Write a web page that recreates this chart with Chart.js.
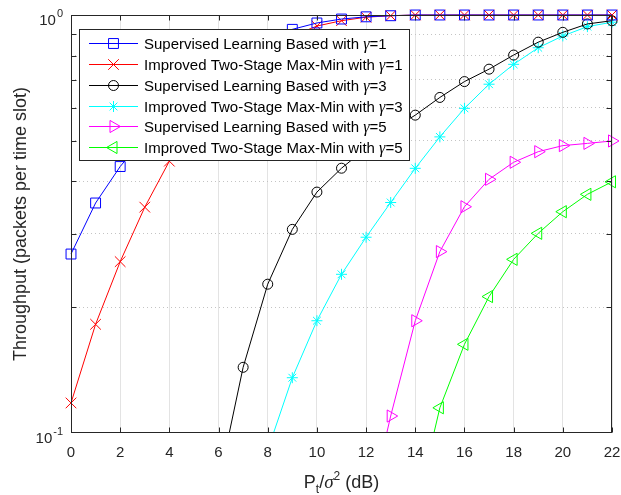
<!DOCTYPE html>
<html>
<head>
<meta charset="utf-8">
<script src="https://cdn.jsdelivr.net/npm/chart.js@4.4.1/dist/chart.umd.min.js"></script>
<style>
  html, body { margin: 0; padding: 0; background: #fff; }
  #wrap { width: 621px; height: 495px; }
</style>
</head>
<body>
<div id="wrap"><canvas id="myChart" width="621" height="495"></canvas></div>
<script>
"use strict";
// x axis: transmit SNR Pt/sigma^2 in dB
const snrDb = [0, 1, 2, 3, 4, 5, 6, 7, 8, 9, 10, 11, 12, 13, 14, 15, 16, 17, 18, 19, 20, 21, 22];
const xTicks = [0, 2, 4, 6, 8, 10, 12, 14, 16, 18, 20, 22];
const yMinorTicks = [0.2, 0.3, 0.4, 0.5, 0.6, 0.7, 0.8, 0.9];

// throughput (null = not plotted)
const slGamma1 = [0.268, 0.355, 0.434, 0.51, 0.585, 0.66, 0.73, 0.8, 0.865, 0.924, 0.957, 0.978, 0.99, 0.996, 1, 1, 1, 1, 1, 1, 1, 1, 1];
const tsGamma1 = [0.118, 0.182, 0.257, 0.347, 0.447, 0.55, 0.65, 0.74, 0.82, 0.89, 0.941, 0.969, 0.988, 0.996, 1, 1, 1, 1, 1, 1, 1, 1, 1];
const slGamma3 = [null, null, null, null, null, null, 0.0757, 0.1436, 0.227, 0.307, 0.377, 0.43, 0.48, 0.53, 0.576, 0.635, 0.693, 0.742, 0.802, 0.861, 0.909, 0.952, 0.969];
const tsGamma3 = [null, null, null, null, null, null, null, null, 0.091, 0.1356, 0.1856, 0.2397, 0.294, 0.356, 0.4297, 0.511, 0.598, 0.683, 0.762, 0.835, 0.891, 0.938, 0.961];
const slGamma5 = [null, null, null, null, null, null, null, null, null, null, null, null, 0.061, 0.1098, 0.1856, 0.2716, 0.3478, 0.4045, 0.4443, 0.471, 0.487, 0.493, 0.4996];
const tsGamma5 = [null, null, null, null, null, null, null, null, null, null, null, null, null, null, 0.0645, 0.1149, 0.163, 0.212, 0.2603, 0.3004, 0.3384, 0.3724, 0.399];

const seriesPrefix = [
  "Supervised Learning Based with ",
  "Improved Two-Stage Max-Min with ",
  "Supervised Learning Based with ",
  "Improved Two-Stage Max-Min with ",
  "Supervised Learning Based with ",
  "Improved Two-Stage Max-Min with "
];
const gammaValues = [1, 1, 3, 3, 5, 5];
const seriesData = [slGamma1, tsGamma1, slGamma3, tsGamma3, slGamma5, tsGamma5];
const seriesColors = ["#0000ff", "#ff0000", "#000000", "#00ffff", "#ff00ff", "#00ff00"];
const seriesMarkers = [
  { style: "rect", radius: 7, rotation: 0 },
  { style: "crossRot", radius: 7.5, rotation: 0 },
  { style: "circle", radius: 5, rotation: 0 },
  { style: "star", radius: 5.5, rotation: 0 },
  { style: "triangle", radius: 7, rotation: 90 },
  { style: "triangle", radius: 7, rotation: -90 }
];

const FONT = "'Liberation Sans', Arial, Helvetica, sans-serif";
const AXIS_COLOR = "#262626";
function sans(px) { return px + "px " + FONT; }
function greek(px) { return "italic " + px + "px 'Liberation Serif', 'DejaVu Serif', serif"; }

const datasets = seriesData.map((arr, i) => ({
  label: seriesPrefix[i] + "\u03b3=" + gammaValues[i],
  data: snrDb.map((x, j) => ({ x: x, y: arr[j] })),
  borderColor: seriesColors[i],
  borderWidth: 1,
  pointStyle: seriesMarkers[i].style,
  pointRadius: seriesMarkers[i].radius,
  pointRotation: seriesMarkers[i].rotation,
  pointBorderColor: seriesColors[i],
  pointBackgroundColor: "rgba(0,0,0,0)",
  pointBorderWidth: 1,
  pointHoverRadius: seriesMarkers[i].radius,
  tension: 0,
  clip: { left: 12, right: 12, top: 12, bottom: 0 }
}));

function isDecade(v) {
  return Math.abs(v - 0.1) < 1e-9 || Math.abs(v - 1) < 1e-9;
}

// draw a run of text pieces left to right, returns the end x
function drawRun(ctx, parts, x, y) {
  parts.forEach(p => {
    ctx.font = p.f;
    ctx.fillText(p.t, x, y + (p.dy || 0));
    x += ctx.measureText(p.t).width;
  });
  return x;
}
function runWidth(ctx, parts) {
  let w = 0;
  parts.forEach(p => { ctx.font = p.f; w += ctx.measureText(p.t).width; });
  return w;
}

// axes box, inward ticks, tick labels, axis titles and legend drawn like the MATLAB figure
const matlabAxes = {
  id: "matlabAxes",
  afterDraw(chart) {
    const ctx = chart.ctx;
    const area = chart.chartArea;
    const xs = chart.scales.x;
    const ys = chart.scales.y;
    const L = Math.round(area.left) + 0.5;
    const R = Math.round(area.right) - 0.5;
    const T = Math.round(area.top) + 0.5;
    const B = Math.round(area.bottom) - 0.5;
    ctx.save();
    ctx.strokeStyle = AXIS_COLOR;
    ctx.lineWidth = 1;
    ctx.beginPath();
    xTicks.forEach(v => {
      const px = Math.round(xs.getPixelForValue(v)) + 0.5;
      ctx.moveTo(px, B); ctx.lineTo(px, B - 5);
      ctx.moveTo(px, T); ctx.lineTo(px, T + 5);
    });
    yMinorTicks.forEach(v => {
      const py = Math.round(ys.getPixelForValue(v)) + 0.5;
      ctx.moveTo(L, py); ctx.lineTo(L + 5, py);
      ctx.moveTo(R, py); ctx.lineTo(R - 5, py);
    });
    ctx.stroke();
    ctx.strokeRect(L, T, R - L, B - T);

    // x tick labels
    ctx.fillStyle = AXIS_COLOR;
    ctx.font = sans(15);
    ctx.textAlign = "center";
    ctx.textBaseline = "alphabetic";
    xTicks.forEach(v => {
      ctx.fillText(String(v), xs.getPixelForValue(v), B + 24.5);
    });

    // y tick labels 10^0 and 10^-1
    [[1, "0"], [0.1, "-1"]].forEach(([v, exp]) => {
      const py = ys.getPixelForValue(v);
      ctx.font = sans(11);
      const ew = ctx.measureText(exp).width;
      ctx.textAlign = "left";
      ctx.textBaseline = "alphabetic";
      const ex = area.left - 8 - ew;
      ctx.fillText(exp, ex, py + 2);
      ctx.font = sans(15);
      ctx.textAlign = "right";
      ctx.fillText("10", ex - 1, py + 10);
    });

    // y title
    ctx.save();
    ctx.translate(26, (area.top + area.bottom) / 2);
    ctx.rotate(-Math.PI / 2);
    ctx.font = sans(18);
    ctx.textAlign = "center";
    ctx.textBaseline = "alphabetic";
    ctx.fillText("Throughput (packets per time slot)", 0, 0);
    ctx.restore();

    // x title: P_t / sigma^2 (dB)
    const xTitle = [
      { t: "P", f: sans(18) },
      { t: "t", f: sans(12), dy: 5 },
      { t: "/", f: sans(18) },
      { t: "\u03c3", f: greek(19) },
      { t: "2", f: sans(12), dy: -8 },
      { t: " (dB)", f: sans(18) }
    ];
    ctx.textAlign = "left";
    ctx.textBaseline = "alphabetic";
    const tw = runWidth(ctx, xTitle);
    drawRun(ctx, xTitle, (area.left + area.right) / 2 - tw / 2, 488);

    // legend
    const lx = 79.5, ly = 29.5, lw = 330, lh = 131;
    ctx.fillStyle = "#ffffff";
    ctx.fillRect(lx, ly, lw, lh);
    ctx.strokeStyle = AXIS_COLOR;
    ctx.strokeRect(lx, ly, lw, lh);
    ctx.textAlign = "left";
    ctx.textBaseline = "alphabetic";
    seriesPrefix.forEach((prefix, i) => {
      const y = Math.round(ly + 13.5 + i * 20.85) + 0.5;
      ctx.strokeStyle = seriesColors[i];
      ctx.lineWidth = 1;
      ctx.beginPath();
      ctx.moveTo(89, y);
      ctx.lineTo(138, y);
      ctx.stroke();
      ctx.fillStyle = "rgba(0,0,0,0)";
      Chart.helpers.drawPoint(ctx, {
        pointStyle: seriesMarkers[i].style,
        radius: seriesMarkers[i].radius,
        rotation: seriesMarkers[i].rotation,
        borderWidth: 1
      }, 113.5, y);
      ctx.fillStyle = "#000000";
      drawRun(ctx, [
        { t: prefix, f: sans(15) },
        { t: "\u03b3", f: greek(16) },
        { t: "=" + gammaValues[i], f: sans(15) }
      ], 144, y + 5);
    });
    ctx.restore();
  }
};

const ctx = document.getElementById("myChart");
new Chart(ctx, {
  type: "line",
  data: { datasets: datasets },
  options: {
    responsive: false,
    animation: false,
    events: [],
    layout: { padding: { top: 15, right: 9, left: 0, bottom: 0 } },
    plugins: { legend: { display: false }, tooltip: { enabled: false } },
    scales: {
      x: {
        type: "linear",
        min: 0,
        max: 22,
        ticks: { display: false, stepSize: 2 },
        grid: { drawTicks: false, color: "#e3e3e3", lineWidth: 1 },
        border: { display: false },
        afterFit: s => { s.height = 62; }
      },
      y: {
        type: "logarithmic",
        min: 0.1,
        max: 1,
        afterBuildTicks: s => { s.ticks = [0.1].concat(yMinorTicks, [1]).map(v => ({ value: v })); },
        ticks: { display: false },
        grid: {
          drawTicks: false,
          lineWidth: 1,
          color: c => (c.tick && isDecade(c.tick.value)) ? "rgba(0,0,0,0)" : "#c4c4c4"
        },
        border: { display: false, dash: [1, 3] },
        afterFit: s => { s.width = 71; }
      }
    }
  },
  plugins: [matlabAxes]
});
</script>
</body>
</html>
